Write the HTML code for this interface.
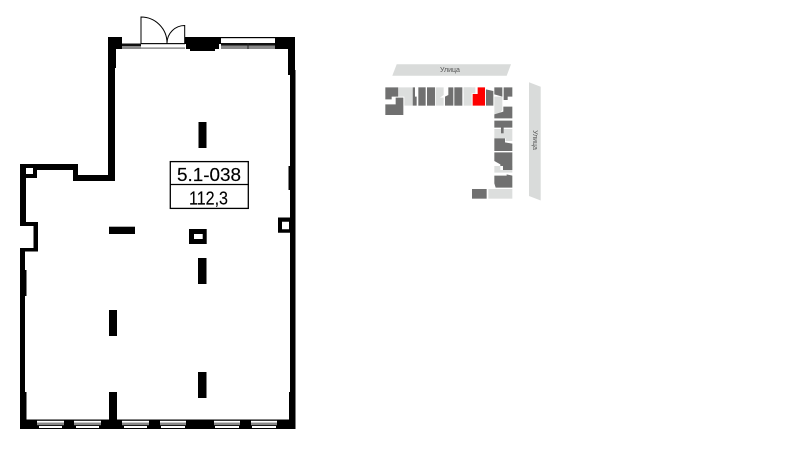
<!DOCTYPE html>
<html><head><meta charset="utf-8"><style>
html,body{margin:0;padding:0;background:#fff;width:800px;height:450px;overflow:hidden}
svg{display:block}
text{font-family:"Liberation Sans",sans-serif}
</style></head><body>
<svg width="800" height="450" viewBox="0 0 800 450" xmlns="http://www.w3.org/2000/svg">
<defs><filter id="b" x="-5%" y="-5%" width="110%" height="110%"><feGaussianBlur stdDeviation="0.35"/></filter></defs>
<rect width="800" height="450" fill="#fff"/>
<!-- walls -->
<g fill="#000">
<rect x="108" y="37" width="14" height="12"/>
<rect x="108" y="37" width="8" height="31"/>
<rect x="108" y="65" width="7" height="116"/>
<rect x="73" y="175" width="42" height="6"/>
<rect x="73" y="164" width="5" height="17"/>
<rect x="37" y="164" width="41" height="6"/>
<rect x="20" y="178" width="6" height="45"/>
<path fill-rule="evenodd" d="M20 164H37V178H20ZM26 168V174H33V168Z"/>
<rect x="20" y="222" width="18" height="4"/>
<rect x="33.500" y="222" width="4.500" height="29"/>
<rect x="20" y="248" width="18" height="3.500"/>
<rect x="20" y="248" width="5" height="150"/>
<rect x="21" y="270" width="5.500" height="26"/>
<rect x="20" y="392" width="6.500" height="37"/>
<!-- right wall -->
<rect x="275" y="37" width="20" height="12"/>
<rect x="288" y="37" width="7" height="38"/>
<rect x="290" y="70" width="5.500" height="330"/>
<rect x="288.500" y="166" width="7" height="24"/>
<rect x="289" y="392" width="6.500" height="37"/>
<path fill-rule="evenodd" d="M278 217.500H291V232.700H278ZM282 221.700V229.300H289V221.700Z"/>
<!-- top black block -->
<rect x="185" y="37" width="36" height="7"/>
<rect x="186" y="44" width="33" height="5"/>
<rect x="190" y="49" width="25" height="2"/>
<!-- columns -->
<rect x="198.500" y="122" width="8" height="26"/>
<rect x="198" y="258" width="8.500" height="26"/>
<rect x="198" y="372" width="8.500" height="26"/>
<rect x="109" y="310" width="8" height="26"/>
<rect x="109" y="392" width="8" height="30"/>
<rect x="109" y="226.700" width="26" height="7.300"/>
<path fill-rule="evenodd" d="M189 229H206.700V244H189ZM194 234V239H202.700V234Z"/>
<!-- bottom wall -->
<rect x="20" y="419.500" width="275.500" height="9.500"/>
</g>
<!-- top windows -->
<rect x="122" y="43.500" width="19" height="2.500" fill="#111"/>
<rect x="122" y="46" width="19" height="3" fill="#8a8a8a"/>
<rect x="141" y="43" width="44" height="1.200" fill="#111"/>
<rect x="141" y="47.300" width="44" height="1.700" fill="#999"/>
<rect x="221" y="37" width="54" height="1.200" fill="#000"/>
<rect x="221" y="43" width="54" height="2.500" fill="#111"/>
<rect x="221" y="45.500" width="54" height="3.500" fill="#888"/>
<rect x="247.500" y="43" width="1" height="6" fill="#222"/>
<!-- door -->
<g fill="none" stroke="#000" stroke-width="1">
<path d="M141 44V17A26 26 0 0 1 167 43"/>
<path d="M184.700 44V25.500A17.700 17.700 0 0 0 167 43V44"/>
</g>
<!-- bottom windows -->
<g>
<rect x="37" y="420.800" width="27" height="2" fill="#fff"/><rect x="37" y="422.800" width="27" height="2.400" fill="#888"/><rect x="39" y="426" width="23" height="2" fill="#fff"/>
<rect x="74" y="420.800" width="27" height="2" fill="#fff"/><rect x="74" y="422.800" width="27" height="2.400" fill="#888"/><rect x="76" y="426" width="23" height="2" fill="#fff"/>
<rect x="122" y="420.800" width="27" height="2" fill="#fff"/><rect x="122" y="422.800" width="27" height="2.400" fill="#888"/><rect x="124" y="426" width="23" height="2" fill="#fff"/>
<rect x="160" y="420.800" width="26" height="2" fill="#fff"/><rect x="160" y="422.800" width="26" height="2.400" fill="#888"/><rect x="161" y="426" width="24" height="2" fill="#fff"/>
<rect x="214" y="420.800" width="26" height="2" fill="#fff"/><rect x="214" y="422.800" width="26" height="2.400" fill="#888"/><rect x="215" y="426" width="24" height="2" fill="#fff"/>
<rect x="251" y="420.800" width="26" height="2" fill="#fff"/><rect x="251" y="422.800" width="26" height="2.400" fill="#888"/><rect x="252" y="426" width="24" height="2" fill="#fff"/>
</g>
<!-- label -->
<rect x="170.300" y="161.600" width="78" height="46.800" fill="#fff" stroke="#000" stroke-width="1.300"/>
<line x1="170" y1="184.500" x2="249" y2="184.500" stroke="#000" stroke-width="1.300"/>
<text x="177" y="181" font-size="18.500" textLength="64" lengthAdjust="spacingAndGlyphs" fill="#000" stroke="#000" stroke-width=".15">5.1-038</text>
<text x="189" y="204.500" font-size="18.500" textLength="39" lengthAdjust="spacingAndGlyphs" fill="#000" stroke="#000" stroke-width=".15">112,3</text>
<!-- key plan -->
<polygon points="392.300,75.700 396.700,64.300 511,64.300 506.700,75.700" fill="#d9dbda"/>
<polygon points="529,82.300 540.700,86.700 540.700,200.500 529,196" fill="#d9dbda"/>
<text x="450" y="72" font-size="7" text-anchor="middle" fill="#555">Улица</text>
<text transform="translate(533,140) rotate(90)" font-size="7" text-anchor="middle" fill="#555">Улица</text>
<g filter="url(#b)">
<g transform="translate(375,55) scale(.33333)">
<g fill="#dcdedd">
<polygon points="72,97 112,97 112,152 88,152 88,125 72,125"/>
<polygon points="182,97 206,97 206,120 195,128 206,128 206,152 182,152"/>
<rect x="266" y="97" width="35" height="18"/>
<rect x="266" y="97" width="24" height="55"/>
<polygon points="358,125 382,125 382,165 372,178 358,178"/>
<polygon points="358,222 378,222 378,236 386,236 386,222 412,222 412,258 392,258 392,250 358,250"/>
<polygon points="358,333 376,333 376,345 384,345 384,333 412,333 412,353 358,353"/>
<rect x="340" y="402" width="72" height="29"/>
</g>
<g fill="#6f706f">
<polygon points="31,97 70,97 70,125 50,125 50,133 31,133"/>
<polygon points="62,128 85,128 85,180 31,180 31,148 62,148"/>
<polygon points="113,97 120,97 120,125 125,125 125,152 113,152"/>
<rect x="130" y="97" width="22" height="55"/>
<rect x="156" y="97" width="24" height="55"/>
<polygon points="220,97 235,97 235,152 210,152 210,125 220,120"/>
<rect x="238" y="97" width="24" height="55"/>
<polygon points="333,103 355,108 355,152 333,152"/>
<polygon points="358,97 382,97 382,125 358,118"/>
<polygon points="386,97 412,97 412,125 398,125 398,135 386,135"/>
<polygon points="385,155 412,155 412,190 358,190 358,178 385,170"/>
<polygon points="358,197 412,197 412,218 386,218 386,235 378,235 378,218 358,218"/>
<polygon points="358,250 390,250 390,262 412,266 412,288 358,288"/>
<polygon points="358,292 412,292 412,345 384,345 384,333 376,333 376,328 358,318"/>
<polygon points="358,362 395,362 395,358 412,362 412,398 362,398 358,385"/>
<rect x="291" y="402" width="44" height="29"/>
</g>
<polygon points="308,97 330,97 330,152 293,152 293,117 308,117" fill="#fe0000"/>
</g>
</g>
</svg>
</body></html>
